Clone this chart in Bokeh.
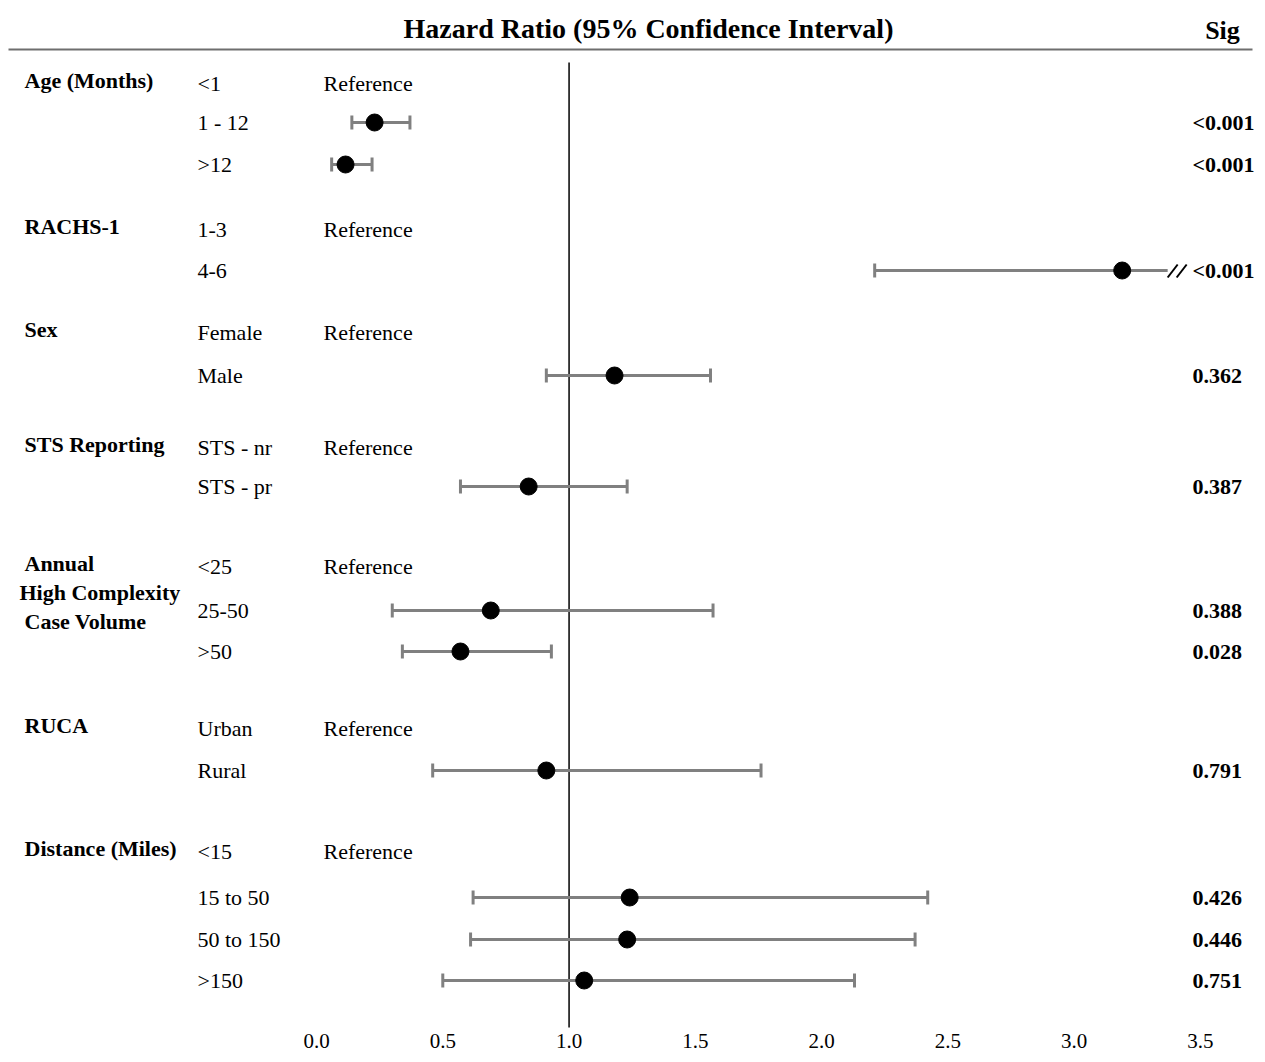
from bokeh.plotting import figure
from bokeh.models import Range1d
from bokeh.core.properties import value
from bokeh.embed import file_html
from bokeh.resources import INLINE

# ---------------- data ----------------
groups = ["Age (Months)", "RACHS-1", "Sex", "STS Reporting",
          "Annual\nHigh Complexity\nCase Volume", "RUCA", "Distance (Miles)"]
row_group = [0, 0, 0, 1, 1, 2, 2, 3, 3, 4, 4, 4, 5, 5, 6, 6, 6, 6]
categories = ["<1", "1 - 12", ">12", "1-3", "4-6", "Female", "Male",
              "STS - nr", "STS - pr", "<25", "25-50", ">50", "Urban", "Rural",
              "<15", "15 to 50", "50 to 150", ">150"]
is_reference = [True, False, False, True, False, True, False, True, False,
                True, False, False, True, False, True, False, False, False]
hazard_ratio = [None, 0.23, 0.115, None, 3.19, None, 1.18, None, 0.84,
                None, 0.69, 0.57, None, 0.91, None, 1.24, 1.23, 1.06]
ci_low = [None, 0.14, 0.06, None, 2.21, None, 0.91, None, 0.57,
          None, 0.30, 0.34, None, 0.46, None, 0.62, 0.61, 0.50]
ci_high = [None, 0.37, 0.22, None, None, None, 1.56, None, 1.23,
           None, 1.57, 0.93, None, 1.76, None, 2.42, 2.37, 2.13]  # None for 4-6: beyond axis (broken)
sig = ["", "<0.001", "<0.001", "", "<0.001", "", "0.362", "", "0.387",
       "", "0.388", "0.028", "", "0.791", "", "0.426", "0.446", "0.751"]
tick_values = [0.0, 0.5, 1.0, 1.5, 2.0, 2.5, 3.0, 3.5]
tick_labels = ["0.0", "0.5", "1.0", "1.5", "2.0", "2.5", "3.0", "3.5"]

# ---------------- layout (canvas pixels) ----------------
row_y = [83, 122, 164, 229, 270, 332, 375, 447, 486, 566, 610, 651,
         728, 770, 851, 897, 939, 980]
X0_PX = 316.0          # canvas x of value 0
SCALE = 252.57         # px per unit
W, H = 1257, 1054
BREAK_AT = 3.37        # axis break for truncated CI


def vx(px):
    return (px - X0_PX) / SCALE


SERIF = value("Liberation Serif")
GRAY = "#808080"

p = figure(width=W, height=H, output_backend="svg", toolbar_location=None,
           x_range=Range1d(vx(0), vx(W)), y_range=Range1d(H, 0),
           min_border=0, outline_line_color=None)
p.axis.visible = False
p.grid.visible = False
p.background_fill_color = "white"
p.border_fill_color = "white"

# header
p.text(x=[vx(648)], y=[28], text=["Hazard Ratio (95% Confidence Interval)"],
       text_font=SERIF, text_font_size="28px", text_font_style="bold",
       text_align="center", text_baseline="middle", text_color="black")
p.text(x=[vx(1222)], y=[30], text=["Sig"],
       text_font=SERIF, text_font_size="26px", text_font_style="bold",
       text_align="center", text_baseline="middle", text_color="black")
p.segment(x0=[vx(8)], x1=[vx(1252)], y0=[49], y1=[49],
          line_color="#6e6e6e", line_width=2)

# reference line at HR = 1
p.segment(x0=[1.0], x1=[1.0], y0=[62], y1=[1027], line_color="black", line_width=1.5)

# group labels
gx, gy, gt = [], [], []
for gi, g in enumerate(groups):
    first = row_group.index(gi)
    for li, line in enumerate(g.split("\n")):
        gx.append(vx(24 if li != 1 else 19))
        gy.append(row_y[first] - 3 + li * 29)
        gt.append(line)
p.text(x=gx, y=gy, text=gt, text_font=SERIF, text_font_size="22px",
       text_font_style="bold", text_align="left", text_baseline="middle",
       text_color="black")

# category labels
p.text(x=[vx(197)] * len(categories), y=row_y, text=categories, text_font=SERIF,
       text_font_size="22px", text_align="left", text_baseline="middle",
       text_color="black")

# "Reference"
ref_y = [y for y, r in zip(row_y, is_reference) if r]
p.text(x=[vx(323)] * len(ref_y), y=ref_y, text=["Reference"] * len(ref_y),
       text_font=SERIF, text_font_size="22px", text_align="left",
       text_baseline="middle", text_color="black")

# sig values
p.text(x=[vx(1192)] * len(sig), y=row_y, text=sig, text_font=SERIF,
       text_font_size="22px", text_font_style="bold", text_align="left",
       text_baseline="middle", text_color="black")

# error bars
lo_x, hi_x, ey = [], [], []
cap_x, cap_y0, cap_y1 = [], [], []
pt_x, pt_y = [], []
brk_x0, brk_x1, brk_y0, brk_y1 = [], [], [], []
for y, hr, lo, hi in zip(row_y, hazard_ratio, ci_low, ci_high):
    if hr is None:
        continue
    end = hi if hi is not None else BREAK_AT
    lo_x.append(lo); hi_x.append(end); ey.append(y)
    cap_x.append(lo); cap_y0.append(y - 7); cap_y1.append(y + 7)
    if hi is not None:
        cap_x.append(hi); cap_y0.append(y - 7); cap_y1.append(y + 7)
    else:
        for off in (0.0, 9.0):
            brk_x0.append(end + off / SCALE)
            brk_x1.append(end + (off + 10) / SCALE)
            brk_y0.append(y + 7)
            brk_y1.append(y - 6)
    pt_x.append(hr); pt_y.append(y)

p.segment(x0=lo_x, x1=hi_x, y0=ey, y1=ey, line_color=GRAY, line_width=3)
p.segment(x0=cap_x, x1=cap_x, y0=cap_y0, y1=cap_y1, line_color=GRAY, line_width=3)
p.segment(x0=brk_x0, x1=brk_x1, y0=brk_y0, y1=brk_y1, line_color="black", line_width=2)
p.scatter(x=pt_x, y=pt_y, size=17, fill_color="black", line_color="black")

# x tick labels
p.text(x=tick_values, y=[1040] * len(tick_values), text=tick_labels,
       text_font=SERIF, text_font_size="21px", text_align="center",
       text_baseline="middle", text_color="black")

open("out.html", "w").write(file_html(p, INLINE))
